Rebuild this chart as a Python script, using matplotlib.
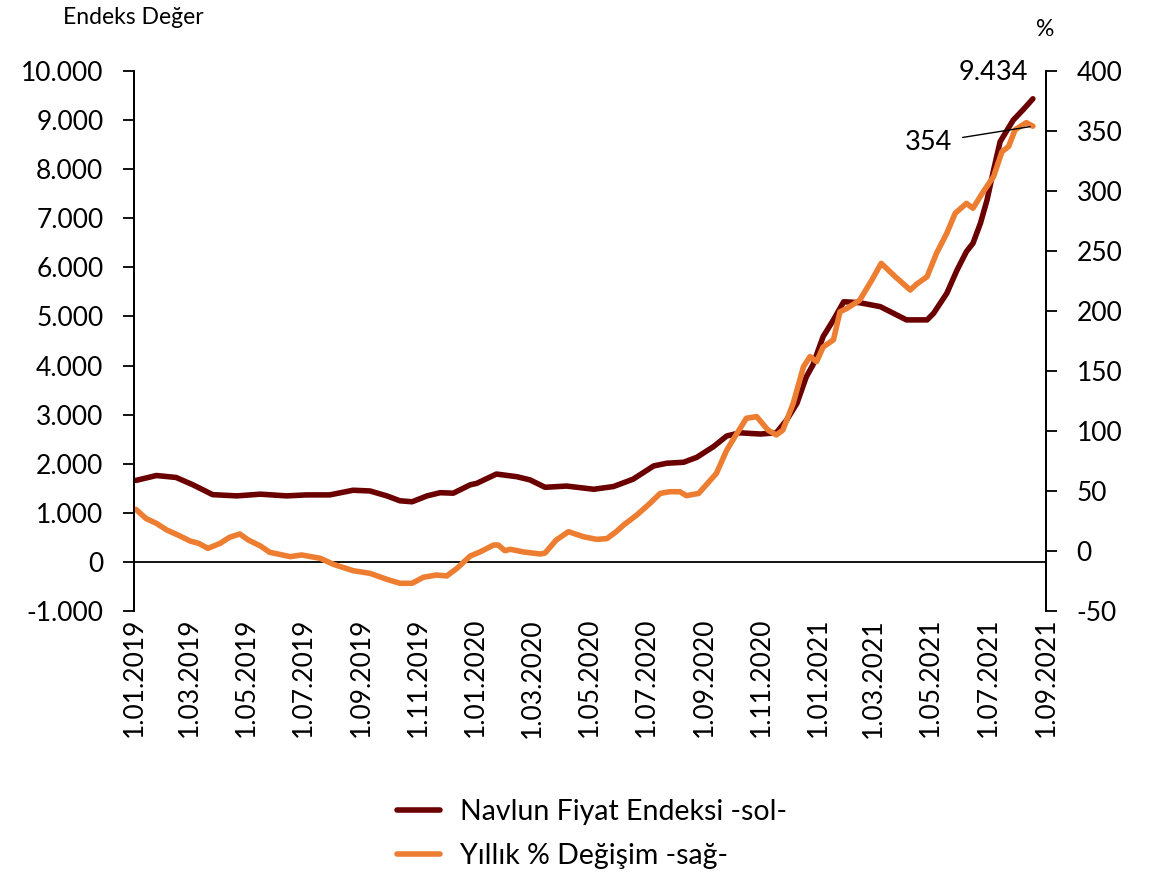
import matplotlib
matplotlib.use("Agg")
import matplotlib.pyplot as plt
from matplotlib.ticker import FuncFormatter, FixedLocator
import pandas as pd

plt.rcParams['font.family'] = ['Lato', 'DejaVu Sans']

# Navlun Fiyat Endeksi (left axis)
index_dates = ["2019-01-03", "2019-01-25", "2019-02-15", "2019-03-05", "2019-03-26", "2019-04-21",
               "2019-05-16", "2019-06-13", "2019-07-04", "2019-07-29", "2019-08-23", "2019-09-10",
               "2019-09-28", "2019-10-12", "2019-10-25", "2019-11-10", "2019-11-24", "2019-12-08",
               "2019-12-26", "2020-01-02", "2020-01-23", "2020-02-14", "2020-02-28", "2020-03-15",
               "2020-04-07", "2020-05-06", "2020-05-27", "2020-06-17", "2020-07-09", "2020-07-23",
               "2020-08-10", "2020-08-24", "2020-09-11", "2020-09-25", "2020-10-09", "2020-10-31",
               "2020-11-17", "2020-11-28", "2020-12-09", "2020-12-19", "2020-12-26", "2021-01-06",
               "2021-01-17", "2021-01-28", "2021-02-14", "2021-03-08", "2021-03-22", "2021-04-05",
               "2021-04-27", "2021-05-04", "2021-05-18", "2021-05-29", "2021-06-08", "2021-06-15",
               "2021-06-23", "2021-06-30", "2021-07-07", "2021-07-14", "2021-07-28", "2021-08-08",
               "2021-08-18"]
index_values = [1660, 1760, 1720, 1570, 1370, 1345,
                1380, 1345, 1365, 1365, 1460, 1445,
                1345, 1245, 1225, 1345, 1410, 1400,
                1570, 1600, 1790, 1735, 1670, 1520,
                1545, 1480, 1535, 1685, 1955, 2010,
                2030, 2130, 2350, 2565, 2630, 2605,
                2630, 2890, 3230, 3770, 4010, 4590,
                4930, 5300, 5280, 5200, 5065, 4930,
                4930, 5065, 5470, 5945, 6320, 6490,
                6900, 7370, 7980, 8560, 9000, 9220,
                9434]

# Yıllık % Değişim (right axis)
change_dates = ["2019-01-03", "2019-01-14", "2019-01-25", "2019-02-05", "2019-02-17", "2019-03-02",
                "2019-03-11", "2019-03-21", "2019-04-03", "2019-04-13", "2019-04-24", "2019-05-03",
                "2019-05-16", "2019-05-26", "2019-06-17", "2019-06-29", "2019-07-19", "2019-08-02",
                "2019-08-23", "2019-09-10", "2019-09-28", "2019-10-12", "2019-10-25", "2019-11-06",
                "2019-11-20", "2019-12-01", "2019-12-12", "2019-12-26", "2020-01-06", "2020-01-20",
                "2020-01-25", "2020-02-01", "2020-02-07", "2020-02-21", "2020-03-10", "2020-03-15",
                "2020-03-27", "2020-04-09", "2020-04-25", "2020-05-09", "2020-05-20", "2020-05-30",
                "2020-06-07", "2020-06-21", "2020-07-05", "2020-07-16", "2020-07-26", "2020-08-06",
                "2020-08-13", "2020-08-26", "2020-09-03", "2020-09-14", "2020-09-25", "2020-10-02",
                "2020-10-16", "2020-10-27", "2020-11-08", "2020-11-17", "2020-11-24", "2020-12-05",
                "2020-12-16", "2020-12-23", "2020-12-30", "2021-01-06", "2021-01-17", "2021-01-24",
                "2021-01-31", "2021-02-14", "2021-02-27", "2021-03-09", "2021-03-24", "2021-04-09",
                "2021-04-16", "2021-04-27", "2021-05-07", "2021-05-18", "2021-05-27", "2021-06-08",
                "2021-06-15", "2021-06-26", "2021-07-07", "2021-07-16", "2021-07-23", "2021-07-30",
                "2021-08-11", "2021-08-18"]
change_values = [34.7, 27, 23, 17.5, 13.3, 8.3,
                 6.4, 2.2, 6.4, 11.4, 14.2, 9.2,
                 4.2, -1.1, -4.7, -3.3, -6.1, -11.1,
                 -16.4, -18.6, -23.6, -26.9, -26.9, -21.9,
                 -20, -20.8, -14.4, -4.2, -0.6, 5,
                 5, 0.3, 1.4, -0.8, -2.5, -1.7,
                 9.2, 16.1, 11.9, 9.7, 10.3, 16.1,
                 21.7, 30, 39.7, 48, 49.4, 49.4,
                 46.1, 48, 55, 64.7, 84, 93,
                 110.6, 112, 100.8, 96.7, 100.8, 123,
                 153.6, 162, 157.8, 170, 176, 199.4,
                 202, 209, 225.8, 239.7, 228.6, 217.5,
                 222.5, 228.6, 248, 264.7, 281.4, 289.7,
                 285.6, 299.4, 312, 332.8, 337, 351,
                 357, 354]

left_ticks = [-1000, 0, 1000, 2000, 3000, 4000, 5000, 6000, 7000, 8000, 9000, 10000]
right_ticks = [-50, 0, 50, 100, 150, 200, 250, 300, 350, 400]

BROWN = "#6B0000"
ORANGE = "#ED7D31"

idx_d = pd.to_datetime(index_dates)
chg_d = pd.to_datetime(change_dates)

fig = plt.figure(figsize=(11.53, 8.73), dpi=100)
ax = fig.add_axes([134/1153, 1-611/873, 912/1153, 540/873])
ax2 = ax.twinx()

l1, = ax.plot(idx_d, index_values, color=BROWN, lw=4.0, solid_capstyle='round',
              solid_joinstyle='round', label="Navlun Fiyat Endeksi -sol-")
l2, = ax2.plot(chg_d, change_values, color=ORANGE, lw=4.0, solid_capstyle='round',
               solid_joinstyle='round', label="Yıllık % Değişim -sağ-")

ax.set_ylim(-1000, 10000)
ax2.set_ylim(-50, 400)
ax.set_xlim(pd.Timestamp("2019-01-01"), pd.Timestamp("2021-09-01"))

ax.axhline(0, color='black', lw=1.3, zorder=1)

xt = pd.date_range("2019-01-01", "2021-09-01", freq="2MS")
ax.set_xticks(xt)
ax.set_xticklabels([f"{d.day}.{d.month:02d}.{d.year}" for d in xt], rotation=90,
                   fontsize=19)
ax.tick_params(axis='x', length=0, pad=5)

ax.yaxis.set_major_locator(FixedLocator(left_ticks))
ax.yaxis.set_major_formatter(FuncFormatter(lambda v, p: f"{int(v):,}".replace(",", ".")))
ax2.yaxis.set_major_locator(FixedLocator(right_ticks))
ax2.yaxis.set_major_formatter(FuncFormatter(lambda v, p: f"{int(v)}"))
ax.tick_params(axis='y', labelsize=19, length=8, width=1.3, direction='out', pad=14)
ax2.tick_params(axis='y', labelsize=19, length=8, width=1.3, direction='out', pad=14)

for a in (ax, ax2):
    a.spines['top'].set_visible(False)
    a.spines['bottom'].set_visible(False)
    a.spines['left'].set_linewidth(1.3)
    a.spines['right'].set_linewidth(1.3)
    a.patch.set_visible(False)

fig.text(63/1153, 1-17/873, "Endeks Değer", fontsize=16.5, ha='left', va='center')
fig.text(1045/1153, 1-30/873, "%", fontsize=16.5, ha='center', va='center')

# annotations
ax.annotate(f"{index_values[-1]:,}".replace(",", "."), xy=(idx_d[-1], index_values[-1]),
            xytext=(993/1153, 1-72/873), textcoords='figure fraction',
            ha='center', va='center', fontsize=19.5)
ax2.annotate(f"{round(change_values[-1])}", xy=(chg_d[-1], change_values[-1]),
             xytext=(928/1153, 1-143/873), textcoords='figure fraction',
             ha='center', va='center', fontsize=19.5,
             arrowprops=dict(arrowstyle='-', color='black', lw=1.0,
                             shrinkA=6, shrinkB=2))

fig.legend([l1, l2], [l1.get_label(), l2.get_label()], loc='center',
           bbox_to_anchor=(592/1153, 1-834/873), frameon=False, fontsize=20.5,
           handlelength=1.5, handletextpad=0.7, labelspacing=0.62)

fig.savefig("out.png", dpi=100)
